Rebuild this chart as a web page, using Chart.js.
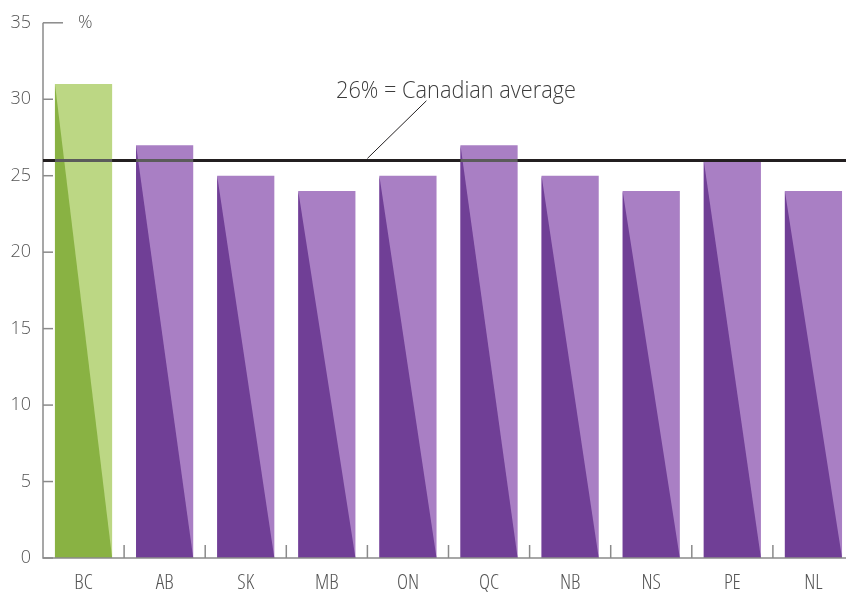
<!DOCTYPE html>
<html>
<head>
<meta charset="utf-8">
<script src="https://cdn.jsdelivr.net/npm/chart.js@4.4.0/dist/chart.umd.min.js"></script>
<style>
  html, body { margin: 0; padding: 0; background: #fff; overflow: hidden; }
  #wrap { width: 854px; height: 595px; position: relative; }
</style>
</head>
<body>
<div id="wrap"><canvas id="chart"></canvas></div>
<script>
const provinces = ["BC", "AB", "SK", "MB", "ON", "QC", "NB", "NS", "PE", "NL"];
const shares = [31, 27, 25, 24, 25, 27, 25, 24, 26, 24];
const canadianAverage = 26;
const averageLabel = "26% = Canadian average";
const yTicks = [0, 5, 10, 15, 20, 25, 30, 35];

const FONT = "'Open Sans', 'Noto Sans', sans-serif";
const AXIS_GREY = "#8a8a8a";

// light = top-right triangle, dark = bottom-left triangle
const lightColors = provinces.map((p) => (p === "BC" ? "#bcd784" : "#a97fc4"));
const darkColors = provinces.map((p) => (p === "BC" ? "#89b243" : "#703f96"));

const decorPlugin = {
  id: "decor",
  afterDatasetsDraw(chart) {
    const ctx = chart.ctx;
    const x = chart.scales.x;
    const y = chart.scales.y;
    const area = chart.chartArea;
    const bars = chart.getDatasetMeta(0).data;

    ctx.save();
    // dark diagonal half of each bar
    bars.forEach((bar, i) => {
      const left = bar.x - bar.width / 2;
      const right = bar.x + bar.width / 2;
      ctx.beginPath();
      ctx.moveTo(left, bar.y);
      ctx.lineTo(left, bar.base);
      ctx.lineTo(right, bar.base);
      ctx.closePath();
      ctx.fillStyle = darkColors[i];
      ctx.fill();
    });

    // axes
    ctx.strokeStyle = AXIS_GREY;
    ctx.lineWidth = 1.5;
    const y0 = y.getPixelForValue(0);
    const yTop = y.getPixelForValue(35);
    ctx.beginPath();
    ctx.moveTo(area.left, yTop);
    ctx.lineTo(area.left, y0);
    ctx.lineTo(area.right, y0);
    ctx.stroke();

    // y tick marks pointing into the plot
    yTicks.forEach((v) => {
      const py = y.getPixelForValue(v);
      const len = v === 35 ? 20 : 10;
      ctx.beginPath();
      ctx.moveTo(area.left, py);
      ctx.lineTo(area.left + len, py);
      ctx.stroke();
    });

    // category separators
    const step = x.getPixelForValue(1) - x.getPixelForValue(0);
    for (let i = 1; i <= provinces.length; i++) {
      const px = x.getPixelForValue(i) - step / 2;
      ctx.beginPath();
      ctx.moveTo(px, y0);
      ctx.lineTo(px, y0 - 13);
      ctx.stroke();
    }

    // unit label
    ctx.fillStyle = "#555";
    ctx.font = "300 18px " + FONT;
    ctx.textBaseline = "middle";
    ctx.textAlign = "left";
    ctx.fillText("%", area.left + 35, yTop);

    // average line
    const ay = y.getPixelForValue(canadianAverage);
    ctx.strokeStyle = "#231f20";
    ctx.lineWidth = 3;
    ctx.beginPath();
    ctx.moveTo(area.left, ay);
    ctx.lineTo(area.right, ay);
    ctx.stroke();
    ctx.strokeStyle = "#5b5b5b";
    bars.forEach((bar) => {
      if (bar.y < ay) {
        ctx.beginPath();
        ctx.moveTo(bar.x - bar.width / 2, ay);
        ctx.lineTo(bar.x + bar.width / 2, ay);
        ctx.stroke();
      }
    });

    // leader + label
    const lx = x.getPixelForValue(3.5);
    ctx.strokeStyle = "#231f20";
    ctx.lineWidth = 1;
    ctx.beginPath();
    ctx.moveTo(lx, ay - 2);
    ctx.lineTo(lx + 59, y.getPixelForValue(29.9));
    ctx.stroke();

    // label is a little narrower than Open Sans, squeeze it to fit
    ctx.fillStyle = "#3c3c3c";
    ctx.font = "300 24px " + FONT;
    ctx.textBaseline = "alphabetic";
    const w = ctx.measureText(averageLabel).width;
    ctx.translate(336, y.getPixelForValue(30.1));
    ctx.scale(240 / w, 1);
    ctx.fillText(averageLabel, 0, 0);
    ctx.restore();
  },
};

new Chart(document.getElementById("chart"), {
  type: "bar",
  data: {
    labels: provinces,
    datasets: [
      {
        data: shares,
        backgroundColor: lightColors,
        borderWidth: 0,
        categoryPercentage: 1,
        barPercentage: 0.705,
      },
    ],
  },
  options: {
    responsive: true,
    maintainAspectRatio: false,
    animation: false,
    layout: { padding: { top: 22, right: 0, bottom: 0, left: 0 } },
    plugins: {
      legend: { display: false },
      tooltip: { enabled: false },
    },
    scales: {
      x: {
        grid: { display: false, drawTicks: false },
        border: { display: false },
        ticks: {
          color: "#555",
          padding: 12,
          font: { family: FONT, size: 21, weight: "300 condensed" },
        },
        afterFit: (scale) => { scale.height = 37; },
      },
      y: {
        min: 0,
        max: 35,
        grid: { display: false, drawTicks: false },
        border: { display: false },
        ticks: {
          stepSize: 5,
          color: "#555",
          padding: 12,
          font: { family: FONT, size: 18, weight: 300 },
        },
        afterFit: (scale) => { scale.width = 43; },
      },
    },
  },
  plugins: [decorPlugin],
});
</script>
</body>
</html>
